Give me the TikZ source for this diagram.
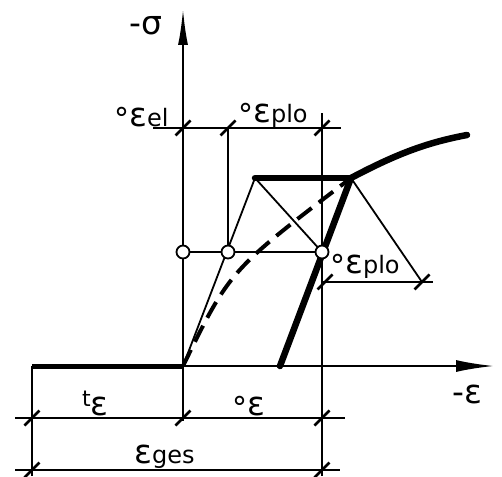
\documentclass[tikz,border=0pt]{standalone}
\usepackage{fontspec}
\setmainfont{DejaVu Sans}
\usetikzlibrary{arrows.meta}
\newcommand\dimtick[1]{\draw[tickline,shift={(#1)}] (-7.5,7.5) -- (7.5,-7.5);}
\newcommand\degsign{{\fontsize{30}{30}\selectfont\raisebox{-3pt}{°}}}
\begin{document}
\begin{tikzpicture}[x=1pt,y=-1pt,
  thinline/.style={line width=1.8pt},
  axisline/.style={line width=2.2pt},
  thickline/.style={line width=6.5pt,line cap=round},
  tickline/.style={line width=2.6pt},
  ring/.style={circle,draw,line width=1.8pt,fill=white,minimum size=13pt,inner sep=0pt},
  lbl/.style={anchor=base west,inner sep=0pt,font=\fontsize{33}{35}\selectfont},
]
\useasboundingbox (0,0) rectangle (502,476);
% key points
\coordinate (O) at (183,366);
\coordinate (Ytip) at (183,9);
\coordinate (L) at (32,366);
\coordinate (Xtip) at (494,366);
\coordinate (A) at (255,178);
\coordinate (B) at (351,178);
\coordinate (E) at (467,135);
\coordinate (F) at (280,366);
\coordinate (D) at (422,282);
% dimension points
\coordinate (T0) at (153,128);
\coordinate (T1) at (183,128);
\coordinate (T2) at (228,128);
\coordinate (T3) at (322,128);
\coordinate (T4) at (341,128);
\coordinate (V3top) at (322,113);
\coordinate (V3bot) at (322,476);
\coordinate (Lbot) at (32,476);
\coordinate (Ob) at (183,421);
\coordinate (M0) at (15,418);
\coordinate (M1) at (32,418);
\coordinate (M2) at (183,418);
\coordinate (M3) at (322,418);
\coordinate (M4) at (345,418);
\coordinate (N0) at (15,470);
\coordinate (N1) at (32,470);
\coordinate (N3) at (322,470);
\coordinate (N4) at (340,470);
\coordinate (R0) at (322,282);
\coordinate (R1) at (325,282);
\coordinate (R4) at (433,282);

% axes
\draw[axisline,-{Latex[length=36pt,width=10pt]}] (O) -- (Ytip);
\draw[axisline,-{Latex[length=38pt,width=12pt]}] (O) -- (Xtip);
\draw[line width=5pt] (L) -- (O);
\draw[thinline] (O) -- (Ob);
\draw[thinline] (L) -- (Lbot);

% dimension lines
\draw[thinline] (T0) -- (T4);
\draw[thinline] (V3top) -- (V3bot);
\draw[thinline] (T2) -- (228,252);
\draw[thinline] (M0) -- (M4);
\draw[thinline] (N0) -- (N4);
\draw[thinline] (R0) -- (R4);

% thin construction lines
\draw[thinline] (O) -- (A);
\draw[thinline] (A) -- (322,252);
\draw[thinline] (B) -- (D);
\draw[thinline] (183,252) -- (322,252);

% thick curves
\draw[thickline] (A) -- (B);
\draw[thickline] (B) .. controls (400,152) and (430,142) .. (E);
\draw[thickline] (B) -- (F);
\draw[line width=4pt,dash pattern=on 18pt off 9pt] (O) .. controls (230,270) .. (B);

% circles
\node[ring] (C1) at (183,252) {};
\node[ring] (C2) at (228,252) {};
\node[ring] (C3) at (322,252) {};

% ticks
\dimtick{T1}
\dimtick{T2}
\dimtick{T3}
\dimtick{M1}
\dimtick{M2}
\dimtick{M3}
\dimtick{N1}
\dimtick{N3}
\dimtick{R1}
\dimtick{D}

% labels
\node[lbl] (ls) at (129,35) {-σ};
\node[lbl] (lel) at (114,126) {\degsign ε{\fontsize{24}{26}\selectfont el}};
\node[lbl] (lplo) at (238,122) {\degsign ε{\fontsize{24}{26}\selectfont plo}};
\node[lbl] (lplo2) at (330,273) {\degsign ε{\fontsize{24}{26}\selectfont plo}};
\node[lbl] (lt) at (82,415) {{\fontsize{22}{24}\selectfont\raisebox{9pt}{t}}ε};
\node[lbl] (lo) at (232,415) {\degsign ε};
\node[lbl] (lges) at (134,463) {ε{\fontsize{24}{26}\selectfont ges}};
\node[lbl] (leps) at (452,403) {-ε};
\end{tikzpicture}
\end{document}
